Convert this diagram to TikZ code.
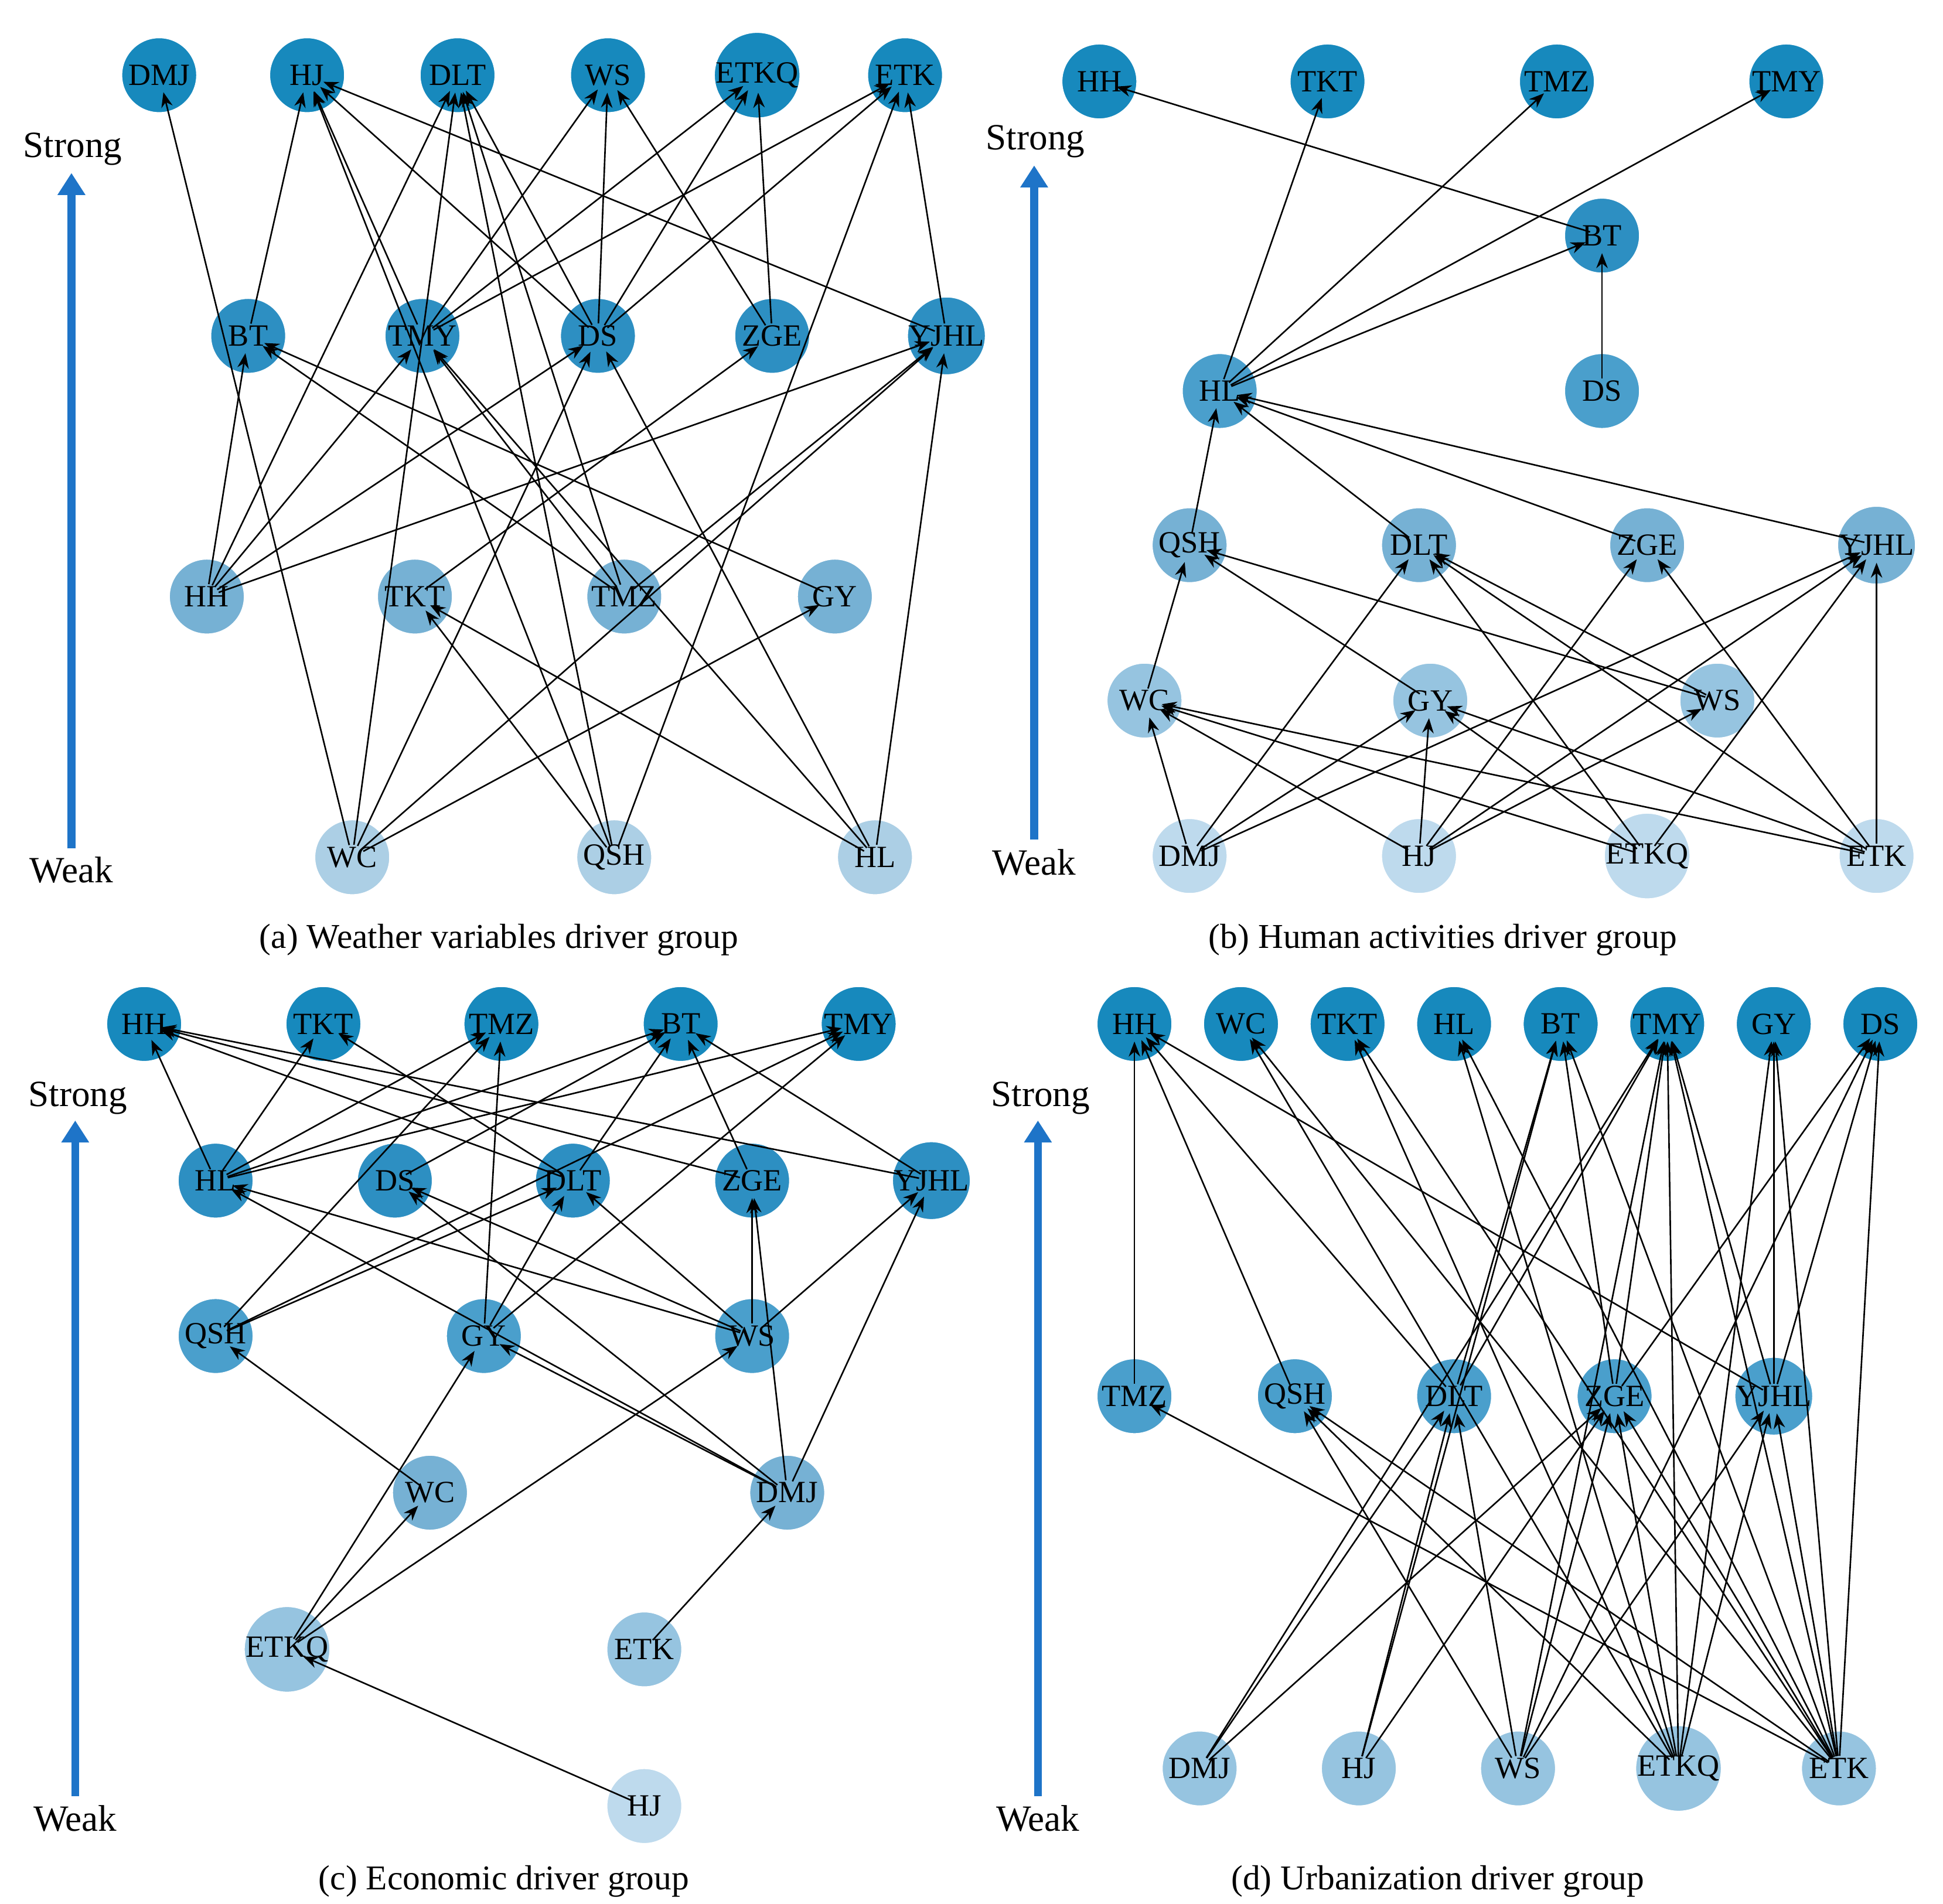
\documentclass[tikz,border=0pt]{standalone}
\usepackage{fontspec}
\setmainfont{Liberation Serif}
\usetikzlibrary{arrows.meta}
\definecolor{k1}{RGB}{23,137,189}
\definecolor{k2}{RGB}{45,143,194}
\definecolor{k3}{RGB}{74,159,204}
\definecolor{k4}{RGB}{118,177,212}
\definecolor{k5}{RGB}{150,196,224}
\definecolor{k6}{RGB}{172,207,229}
\definecolor{k7}{RGB}{190,218,237}
\definecolor{axisblue}{RGB}{30,116,200}
\newcommand\Nd[5]{\node[nd,fill=#5] (#1-#2) at (#3,#4) {#2};}
\newcommand\Ed[3]{\draw[edge] (#1-#2.center) -- (#1-#3.center);}
\begin{document}
\begin{tikzpicture}[x=0.01cm,y=-0.01cm,
  nd/.style={circle,minimum size=0.6cm,inner sep=0pt,draw=white,line width=0.3pt,font=\fontsize{7}{8}\selectfont},
  edge/.style={draw=black,line width=0.35pt,shorten >=0.14cm,shorten <=0.1cm,-{Stealth[length=3.4pt,width=2.6pt]}},
  axis/.style={draw=axisblue,line width=1.8pt,-{Triangle[length=5pt,width=6pt]}},
  lbl/.style={font=\fontsize{8.4}{10}\selectfont,inner sep=0pt},
  captxt/.style={font=\fontsize{7.9}{10}\selectfont,inner sep=0pt}]
\useasboundingbox (0,0) rectangle (1550,1519);
% axes
\coordinate (aw) at (57,677); \coordinate (as) at (57,138);
\draw[axis] (aw) -- (as);
\node[lbl] (ast) at (58,119) {Strong}; \node[lbl] (awk) at (57,694) {Weak};
\coordinate (bw) at (825,670); \coordinate (bs) at (825,132);
\draw[axis] (bw) -- (bs);
\node[lbl] (bst) at (826,113) {Strong}; \node[lbl] (bwk) at (825,688) {Weak};
\coordinate (cw) at (60,1433); \coordinate (cs) at (60,894);
\draw[axis] (cw) -- (cs);
\node[lbl] (cst) at (62,876) {Strong}; \node[lbl] (cwk) at (60,1451) {Weak};
\coordinate (dw) at (828,1433); \coordinate (ds) at (828,894);
\draw[axis] (dw) -- (ds);
\node[lbl] (dst) at (830,876) {Strong}; \node[lbl] (dwk) at (828,1451) {Weak};
% captions
\node[captxt] (capa) at (398,750) {(a) Weather variables driver group};
\node[captxt] (capb) at (1151,750) {(b) Human activities driver group};
\node[captxt] (capc) at (402,1501) {(c) Economic driver group};
\node[captxt] (capd) at (1147,1501) {(d) Urbanization driver group};
% ---------------- panel a
\Nd{a}{DMJ}{127}{60}{k1}\Nd{a}{HJ}{245}{60}{k1}\Nd{a}{DLT}{365}{60}{k1}
\Nd{a}{WS}{485}{60}{k1}\Nd{a}{ETKQ}{604}{60}{k1}\Nd{a}{ETK}{722}{60}{k1}
\Nd{a}{BT}{198}{268}{k2}\Nd{a}{TMY}{337}{268}{k2}\Nd{a}{DS}{477}{268}{k2}
\Nd{a}{ZGE}{616}{268}{k2}\Nd{a}{YJHL}{755}{268}{k2}
\Nd{a}{HH}{165}{476}{k4}\Nd{a}{TKT}{331}{476}{k4}\Nd{a}{TMZ}{498}{476}{k4}\Nd{a}{GY}{666}{476}{k4}
\Nd{a}{WC}{281}{684}{k6}\Nd{a}{QSH}{490}{684}{k6}\Nd{a}{HL}{698}{684}{k6}
\Ed{a}{WC}{DMJ}\Ed{a}{WC}{DLT}\Ed{a}{WC}{DS}\Ed{a}{WC}{YJHL}\Ed{a}{WC}{GY}
\Ed{a}{QSH}{TKT}\Ed{a}{QSH}{HJ}\Ed{a}{QSH}{DLT}\Ed{a}{QSH}{ETK}
\Ed{a}{HL}{TKT}\Ed{a}{HL}{TMY}\Ed{a}{HL}{DS}\Ed{a}{HL}{YJHL}
\Ed{a}{HH}{BT}\Ed{a}{HH}{DLT}\Ed{a}{HH}{TMY}\Ed{a}{HH}{DS}\Ed{a}{HH}{YJHL}
\Ed{a}{TKT}{ZGE}
\Ed{a}{TMZ}{BT}\Ed{a}{TMZ}{TMY}\Ed{a}{TMZ}{DLT}\Ed{a}{TMZ}{YJHL}
\Ed{a}{GY}{BT}
\Ed{a}{BT}{HJ}
\Ed{a}{TMY}{HJ}\Ed{a}{TMY}{WS}\Ed{a}{TMY}{ETKQ}\Ed{a}{TMY}{ETK}
\Ed{a}{DS}{HJ}\Ed{a}{DS}{DLT}\Ed{a}{DS}{WS}\Ed{a}{DS}{ETKQ}\Ed{a}{DS}{ETK}
\Ed{a}{ZGE}{WS}\Ed{a}{ZGE}{ETKQ}
\Ed{a}{YJHL}{HJ}\Ed{a}{YJHL}{ETK}
% ---------------- panel b
\Nd{b}{HH}{877}{65}{k1}\Nd{b}{TKT}{1059}{65}{k1}\Nd{b}{TMZ}{1242}{65}{k1}\Nd{b}{TMY}{1425}{65}{k1}
\Nd{b}{BT}{1278}{188}{k2}\Nd{b}{DS}{1278}{312}{k3}\Nd{b}{HL}{973}{312}{k3}
\Nd{b}{QSH}{949}{435}{k4}\Nd{b}{DLT}{1132}{435}{k4}\Nd{b}{ZGE}{1314}{435}{k4}\Nd{b}{YJHL}{1497}{435}{k4}
\Nd{b}{WC}{913}{559}{k5}\Nd{b}{GY}{1141}{559}{k5}\Nd{b}{WS}{1370}{559}{k5}
\Nd{b}{DMJ}{949}{683}{k7}\Nd{b}{HJ}{1132}{683}{k7}\Nd{b}{ETKQ}{1314}{683}{k7}\Nd{b}{ETK}{1497}{683}{k7}
\Ed{b}{BT}{HH}\Ed{b}{HL}{TKT}\Ed{b}{HL}{TMZ}\Ed{b}{HL}{TMY}\Ed{b}{HL}{BT}\Ed{b}{DS}{BT}
\Ed{b}{QSH}{HL}\Ed{b}{DLT}{HL}\Ed{b}{ZGE}{HL}\Ed{b}{YJHL}{HL}
\Ed{b}{WC}{QSH}\Ed{b}{GY}{QSH}\Ed{b}{WS}{QSH}
\Ed{b}{WS}{DLT}\Ed{b}{ETKQ}{DLT}\Ed{b}{ETK}{DLT}\Ed{b}{DMJ}{DLT}
\Ed{b}{HJ}{ZGE}\Ed{b}{ETK}{ZGE}
\Ed{b}{DMJ}{YJHL}\Ed{b}{HJ}{YJHL}\Ed{b}{ETKQ}{YJHL}\Ed{b}{ETK}{YJHL}
\Ed{b}{DMJ}{WC}\Ed{b}{HJ}{WC}\Ed{b}{ETKQ}{WC}\Ed{b}{ETK}{WC}
\Ed{b}{DMJ}{GY}\Ed{b}{HJ}{GY}\Ed{b}{ETKQ}{GY}\Ed{b}{ETK}{GY}
\Ed{b}{HJ}{WS}
% ---------------- panel c
\Nd{c}{HH}{115}{817}{k1}\Nd{c}{TKT}{258}{817}{k1}\Nd{c}{TMZ}{400}{817}{k1}\Nd{c}{BT}{543}{817}{k1}\Nd{c}{TMY}{685}{817}{k1}
\Nd{c}{HL}{172}{942}{k2}\Nd{c}{DS}{315}{942}{k2}\Nd{c}{DLT}{457}{942}{k2}\Nd{c}{ZGE}{600}{942}{k2}\Nd{c}{YJHL}{743}{942}{k2}
\Nd{c}{QSH}{172}{1066}{k3}\Nd{c}{GY}{386}{1066}{k3}\Nd{c}{WS}{600}{1066}{k3}
\Nd{c}{WC}{343}{1191}{k4}\Nd{c}{DMJ}{628}{1191}{k4}
\Nd{c}{ETKQ}{229}{1316}{k5}\Nd{c}{ETK}{514}{1316}{k5}
\Nd{c}{HJ}{514}{1441}{k7}
\Ed{c}{HL}{HH}\Ed{c}{HL}{TKT}\Ed{c}{HL}{TMZ}\Ed{c}{HL}{BT}\Ed{c}{HL}{TMY}
\Ed{c}{DLT}{HH}\Ed{c}{DLT}{TKT}\Ed{c}{DLT}{BT}\Ed{c}{ZGE}{HH}\Ed{c}{YJHL}{HH}
\Ed{c}{ZGE}{BT}\Ed{c}{YJHL}{BT}\Ed{c}{DS}{BT}
\Ed{c}{QSH}{TMZ}\Ed{c}{QSH}{DLT}\Ed{c}{QSH}{TMY}
\Ed{c}{GY}{TMZ}\Ed{c}{GY}{DLT}\Ed{c}{GY}{TMY}
\Ed{c}{WS}{HL}\Ed{c}{WS}{DS}\Ed{c}{WS}{DLT}\Ed{c}{WS}{ZGE}\Ed{c}{WS}{YJHL}
\Ed{c}{DMJ}{HL}\Ed{c}{DMJ}{DS}\Ed{c}{DMJ}{ZGE}\Ed{c}{DMJ}{YJHL}\Ed{c}{DMJ}{GY}
\Ed{c}{WC}{QSH}\Ed{c}{ETKQ}{WC}\Ed{c}{ETKQ}{GY}\Ed{c}{ETKQ}{WS}\Ed{c}{HJ}{ETKQ}\Ed{c}{ETK}{DMJ}
% ---------------- panel d
\Nd{d}{HH}{905}{817}{k1}\Nd{d}{WC}{990}{817}{k1}\Nd{d}{TKT}{1075}{817}{k1}\Nd{d}{HL}{1160}{817}{k1}
\Nd{d}{BT}{1245}{817}{k1}\Nd{d}{TMY}{1330}{817}{k1}\Nd{d}{GY}{1415}{817}{k1}\Nd{d}{DS}{1500}{817}{k1}
\Nd{d}{TMZ}{905}{1114}{k3}\Nd{d}{QSH}{1033}{1114}{k3}\Nd{d}{DLT}{1160}{1114}{k3}\Nd{d}{ZGE}{1288}{1114}{k3}\Nd{d}{YJHL}{1415}{1114}{k3}
\Nd{d}{DMJ}{957}{1411}{k5}\Nd{d}{HJ}{1084}{1411}{k5}\Nd{d}{WS}{1211}{1411}{k5}\Nd{d}{ETKQ}{1339}{1411}{k5}\Nd{d}{ETK}{1467}{1411}{k5}
\Ed{d}{TMZ}{HH}\Ed{d}{QSH}{HH}\Ed{d}{DLT}{HH}\Ed{d}{YJHL}{HH}
\Ed{d}{DLT}{BT}\Ed{d}{DLT}{TMY}\Ed{d}{ZGE}{BT}\Ed{d}{ZGE}{TMY}\Ed{d}{YJHL}{TMY}\Ed{d}{YJHL}{DS}\Ed{d}{ZGE}{DS}\Ed{d}{YJHL}{GY}
\Ed{d}{DMJ}{DLT}\Ed{d}{DMJ}{TMY}\Ed{d}{DMJ}{ZGE}
\Ed{d}{HJ}{DLT}\Ed{d}{HJ}{BT}\Ed{d}{HJ}{ZGE}
\Ed{d}{WS}{QSH}\Ed{d}{WS}{DLT}\Ed{d}{WS}{ZGE}\Ed{d}{WS}{YJHL}\Ed{d}{WS}{TMY}\Ed{d}{WS}{DS}
\Ed{d}{ETKQ}{QSH}\Ed{d}{ETKQ}{ZGE}\Ed{d}{ETKQ}{YJHL}\Ed{d}{ETKQ}{TMY}\Ed{d}{ETKQ}{WC}\Ed{d}{ETKQ}{TKT}\Ed{d}{ETKQ}{HL}\Ed{d}{ETKQ}{GY}
\Ed{d}{ETK}{TMZ}\Ed{d}{ETK}{QSH}\Ed{d}{ETK}{ZGE}\Ed{d}{ETK}{YJHL}\Ed{d}{ETK}{DS}\Ed{d}{ETK}{GY}\Ed{d}{ETK}{BT}
\Ed{d}{ETK}{TMY}\Ed{d}{ETK}{WC}\Ed{d}{ETK}{TKT}\Ed{d}{ETK}{HL}
\end{tikzpicture}
\end{document}
